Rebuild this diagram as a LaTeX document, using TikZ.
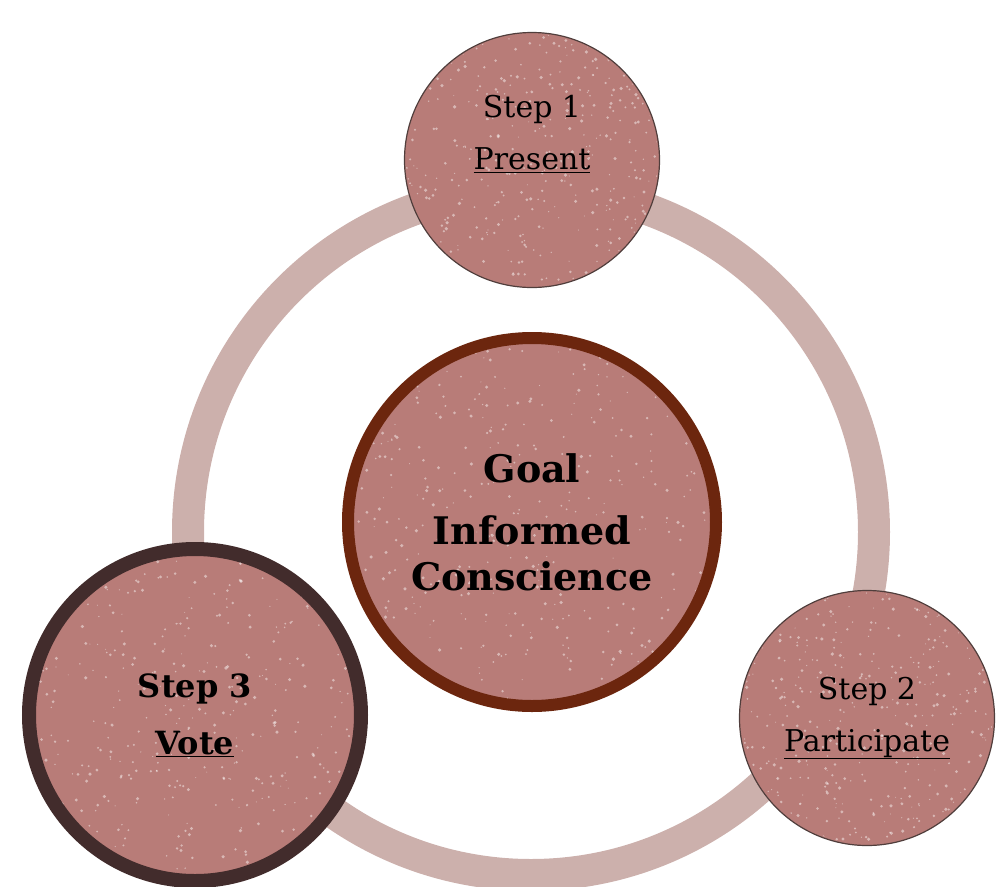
\documentclass[tikz,border=0pt]{standalone}
\usepackage{fontspec}
\setmainfont{DejaVu Serif}
\usepackage{tikz}
\usetikzlibrary{positioning}
\usetikzlibrary{calc}
\definecolor{rosefill}{RGB}{184,124,120}
\definecolor{ringcolor}{RGB}{204,176,172}
\definecolor{goalrim}{RGB}{108,38,14}
\definecolor{voterim}{RGB}{66,44,44}
\definecolor{thinrim}{RGB}{80,62,60}
\tikzstyle{ring}=[draw=ringcolor,line width=32pt]
\tikzstyle{disc}=[circle,fill=rosefill,inner sep=0pt]
\tikzstyle{stepdisc}=[disc,draw=thinrim,line width=1.2pt,minimum size=255pt]
\tikzstyle{goaldisc}=[disc,draw=goalrim,line width=12pt,minimum size=368pt]
\tikzstyle{votedisc}=[disc,draw=voterim,line width=14pt,minimum size=332pt]
\tikzstyle{steptext}=[inner sep=0pt,align=center,font=\fontsize{30}{52}\selectfont]
\tikzstyle{goaltext}=[inner sep=0pt,align=center,font=\bfseries\fontsize{38}{46}\selectfont]
\tikzstyle{votetext}=[inner sep=0pt,align=center,font=\bfseries\fontsize{32}{57}\selectfont]
\tikzstyle{speck}=[white,opacity=.45]
% grunge specks inside a disc: centre, radius
\newcommand\specks[2]{%
  \begin{scope}
    \clip (#1) circle (#2);
    \foreach \i in {1,...,420}
      \fill[speck] ($(#1)+(rand*#2,rand*#2)$) circle ({0.5+rnd*1.3});
  \end{scope}}
\begin{document}
\begin{tikzpicture}[x=1pt,y=1pt]
	\pgfmathsetseed{7}
	\useasboundingbox (0,0) rectangle (1005,-887);
	\coordinate (ctr) at (531,-532);
	\draw[ring] (ctr) circle (343);
	\node[stepdisc] (step1) at (532,-160) {};
	\specks{step1}{126}
	\node[steptext] (step1-text) at ([yshift=26]step1) {Step 1\\\underline{Present}};
	\node[stepdisc] (step2) at (867,-718) {};
	\specks{step2}{126}
	\node[steptext] (step2-text) at (step2) {Step 2\\\underline{Participate}};
	\node[goaldisc] (goal) at (532,-522) {};
	\specks{goal}{178}
	\node[goaltext] (goal-text) at (goal) {Goal\\[16pt]Informed\\Conscience};
	\node[votedisc] (step3) at (195,-715) {};
	\specks{step3}{159}
	\node[votetext] (step3-text) at (step3) {Step 3\\\underline{Vote}};
\end{tikzpicture}
\end{document}
